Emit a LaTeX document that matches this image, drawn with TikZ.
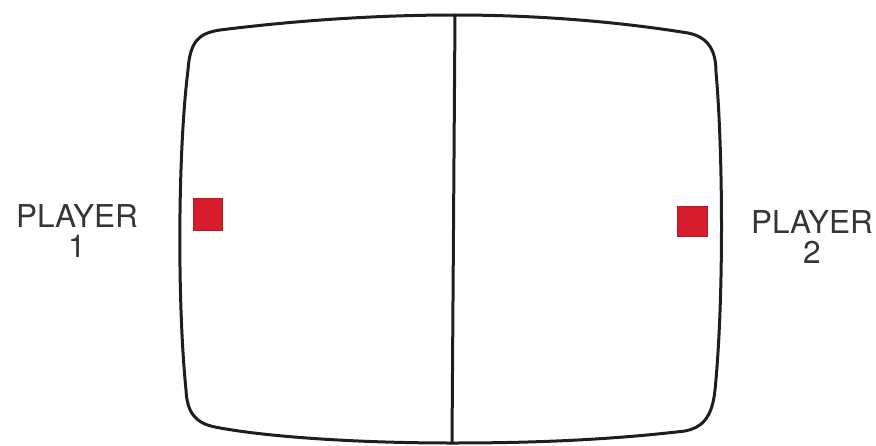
\documentclass[tikz,border=0pt]{standalone}
\usepackage{fontspec}
\setmainfont{TeX Gyre Heros}
\definecolor{paddle}{RGB}{214,28,44}
\definecolor{ink}{RGB}{30,30,30}
\tikzset{
  screenline/.style={draw=ink, line width=3pt, line join=round, line cap=round},
  paddlebox/.style={fill=paddle, draw=paddle!85!black, line width=0.6pt},
  playerlabel/.style={text=ink!90, align=center, inner sep=0pt, font=\fontsize{31.5}{30}\selectfont}
}
\begin{document}
\begin{tikzpicture}[x=1pt,y=-1pt]
\useasboundingbox (0,0) rectangle (876,445);
% screen outline
\path[screenline]
  (455,15) .. controls (540,15) and (620,22) .. (688,33)
  .. controls (708,37) and (716,50) .. (716,72)
  .. controls (723,150) and (724,300) .. (715,390)
  .. controls (712,420) and (700,428) .. (685,431)
  .. controls (600,441) and (520,443) .. (452,443)
  .. controls (350,443) and (260,436) .. (215,427)
  .. controls (195,423) and (187,412) .. (186,390)
  .. controls (177,300) and (178,150) .. (188,70)
  .. controls (190,40) and (200,33) .. (220,30)
  .. controls (300,20) and (380,15) .. (455,15) -- cycle;
% centre net
\coordinate (nettop) at (455,15);
\coordinate (netbot) at (452,443);
\draw[screenline] (nettop) -- (netbot);
% paddles
\node[paddlebox, minimum width=29pt, minimum height=32pt, inner sep=0pt] (p1) at (208,214.5) {};
\node[paddlebox, minimum width=30pt, minimum height=30pt, inner sep=0pt] (p2) at (692.5,221.5) {};
% labels
\node[playerlabel, anchor=base] (l1) at (77,257) {PLAYER\\1};
\node[playerlabel, anchor=base] (l2) at (812,263) {PLAYER\\2};
\end{tikzpicture}
\end{document}
